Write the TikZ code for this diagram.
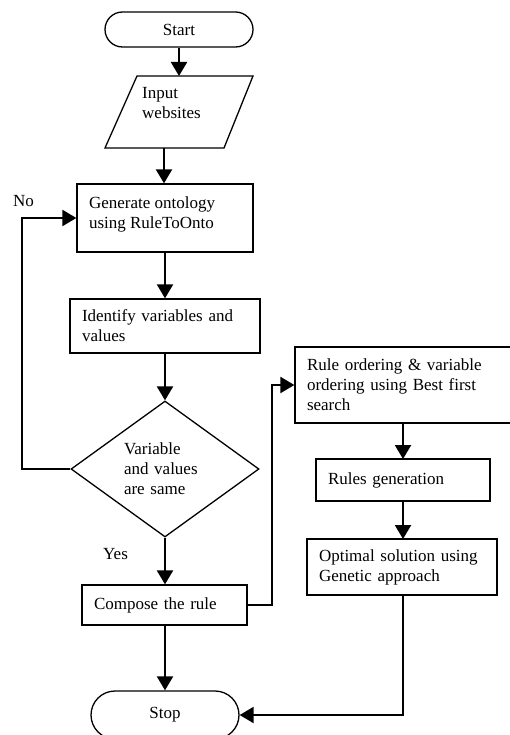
\documentclass[tikz,border=0pt]{standalone}
\usepackage{fontspec}
\setmainfont{Liberation Serif}
\usetikzlibrary{arrows.meta,shapes.geometric,shapes.misc}
\begin{document}
\begin{tikzpicture}[x=1pt,y=-1pt,
  every node/.style={font=\fontsize{17}{20}\selectfont},
  box/.style={draw, line width=1.3pt, rectangle, inner xsep=12pt, inner ysep=0pt, align=left},
  term/.style={draw, line width=1.3pt, rounded rectangle, inner sep=0pt},
  decision/.style={draw, line width=1.3pt, diamond, inner sep=0pt, align=left, shape aspect=1.38},
  arr/.style={line width=2.2pt, -{Triangle[length=14pt,width=16pt]}},
  conn/.style={line width=2.2pt},
  lbl/.style={inner sep=0pt}]
\useasboundingbox (0,0) rectangle (509,735);

% terminals
\node[term, minimum width=148pt, minimum height=35pt] (start) at (179,29.5) {Start};
\node[term, minimum width=148pt, minimum height=48pt] (stop) at (165,715) {Stop};

% input parallelogram
\draw[line width=1.3pt] (137,76) -- (253,76) -- (224,148) -- (105,148) -- cycle;
\node[lbl, align=left, anchor=west] (inp) at (142,103.5) {Input\\websites};
\coordinate (inpT) at (179,76);
\coordinate (inpB) at (164,148);

% main column
\node[box, minimum height=68pt] (gen) at (165,218)
  {\parbox[c][43pt][t]{152pt}{Generate ontology\\using RuleToOnto}};
\node[box, minimum height=54pt, text width=166pt] (ident) at (165,326)
  {Identify variables and\\values};
\node[decision, minimum width=188pt, minimum height=136pt, text width=82pt] (dia) at (165,469)
  {Variable\\and values\\are same};
\node[box, minimum height=40pt, text width=141pt] (comp) at (164.5,605)
  {Compose the rule};

% right column
\node[box, minimum height=76pt, text width=193pt] (rule) at (403.5,385)
  {Rule ordering \& variable\\ordering using Best first\\search};
\node[box, minimum height=42pt, text width=150pt] (rgen) at (403,480)
  {Rules generation};
\node[box, minimum height=56pt, text width=166pt] (opt) at (402,567)
  {Optimal solution using\\Genetic approach};

% labels
\node[lbl] (no) at (23.5,201) {No};
\node[lbl] (yes) at (115.5,554) {Yes};

% connectors
\draw[arr] (start.south) -- (inpT);
\draw[arr] (inpB) -- (inpB |- gen.north);
\draw[arr] (gen.south) -- (ident.north);
\draw[arr] (ident.south) -- (dia.north);
\draw[arr] (dia.south) -- (dia.south |- comp.north);
\draw[arr] (dia.south |- comp.south) -- (dia.south |- stop.north);
\draw[arr] (dia.west) -- (22,469) -- (22,218) -- (gen.west);
\draw[arr] (comp.east) -- (272,605) -- (272,385) -- (rule.west);
\draw[arr] (403,423) -- (403,459);
\draw[arr] (403,501) -- (403,539);
\draw[arr] (403,595) -- (403,715) -- (stop.east);
\end{tikzpicture}
\end{document}
